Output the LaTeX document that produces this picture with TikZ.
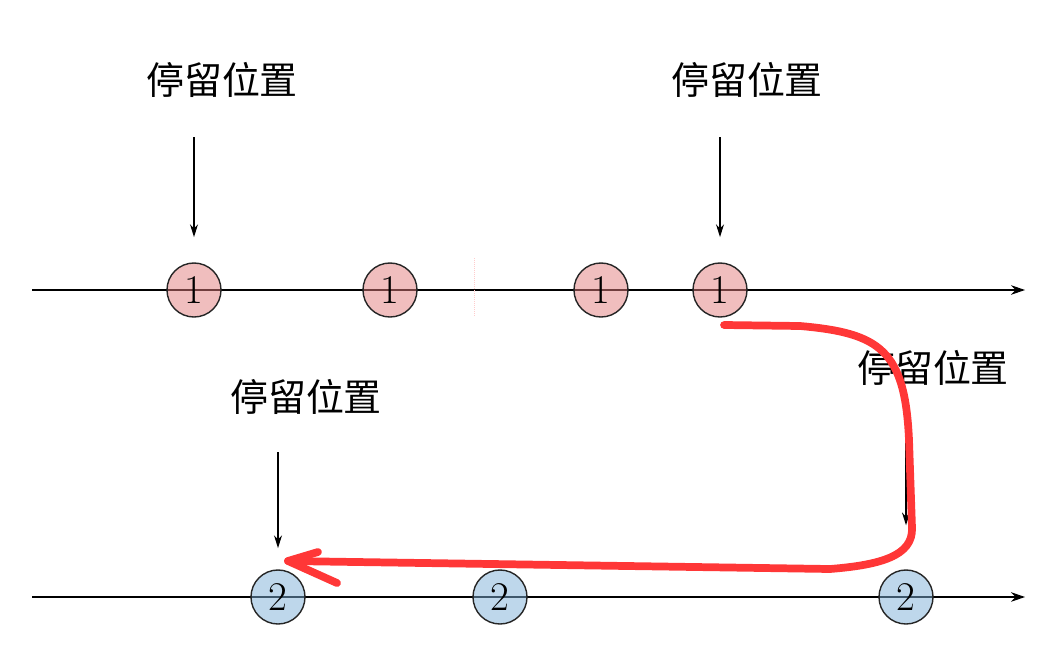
\documentclass[tikz,border=0pt]{standalone}
\usepackage{fontspec}
\newfontfamily\cjk{Noto Sans CJK SC}
\usetikzlibrary{arrows.meta}
\definecolor{hotfill}{RGB}{225,125,125}
\definecolor{coldfill}{RGB}{125,175,215}
\definecolor{pen}{RGB}{255,55,55}

\begin{document}
\begin{tikzpicture}[x=0.025cm,y=-0.025cm,line width=0.9pt]

  \tikzset{
    lab/.style  = {font=\cjk\fontsize{27}{30}\selectfont, inner sep=0pt},
    lead/.style = {line width=0.8pt, -{Stealth[length=0.32cm,width=0.2cm]}},
    axis/.style = {line width=1pt, -{Stealth[length=0.35cm,width=0.24cm]}},
    ball/.style = {circle, draw=black!85, line width=1pt, minimum size=1.35cm,
                   inner sep=0pt, fill opacity=0.5, text opacity=1,
                   font=\fontsize{29}{31}\selectfont},
    hot/.style  = {ball, fill=hotfill},
    cold/.style = {ball, fill=coldfill},
    ink/.style  = {pen, line width=5.5pt, line cap=round, line join=round},
    seam/.style = {red!20, line width=0.4pt, densely dotted},
  }

  \useasboundingbox (0,0) rectangle (1037,650);

  % ---- the two lines ----------------------------------------------------
  \coordinate (a0) at (32,290);   \coordinate (a1) at (1025,290);
  \coordinate (c0) at (32,597);   \coordinate (c1) at (1025,597);
  \draw[axis] (a0) -- (a1);
  \draw[axis] (c0) -- (c1);
  \draw[seam] (474,258) -- (474,316);

  % ---- balls ------------------------------------------------------------
  \foreach \n/\x in {1/194, 2/390, 3/601, 4/720}
    \node[hot] (r\n) at (\x,290) {1};
  \foreach \n/\x in {1/278, 2/500, 3/906}
    \node[cold] (b\n) at (\x,597) {2};

  % ---- where they stop --------------------------------------------------
  \foreach \n/\x/\y in {1/222/80, 2/747/80, 3/306/397, 4/933/368}
    \node[lab] (l\n) at (\x,\y) {停留位置};

  \coordinate (t1) at (194,137);
  \coordinate (t2) at (720,137);
  \coordinate (t3) at (278,452);
  \coordinate (t4) at (906,420);
  \draw[lead, shorten >=0.63cm] (t1) -- (r1);
  \draw[lead, shorten >=0.63cm] (t2) -- (r4);
  \draw[lead, shorten >=0.53cm] (t3) -- (b1);
  \draw[lead, shorten >=1.1cm]  (t4) -- (b3);

  % ---- hand drawn return ------------------------------------------------
  \coordinate (go)   at (724,325);
  \coordinate (back) at (288,561);
  \draw[ink] (go) -- (800,326) .. controls (880,333) and (905,350) .. (909,440)
    -- (912,528) .. controls (913,556) and (880,565) .. (830,569) -- (back);
  \draw[ink] (318,552) -- (back) -- (337,583);

\end{tikzpicture}
\end{document}
